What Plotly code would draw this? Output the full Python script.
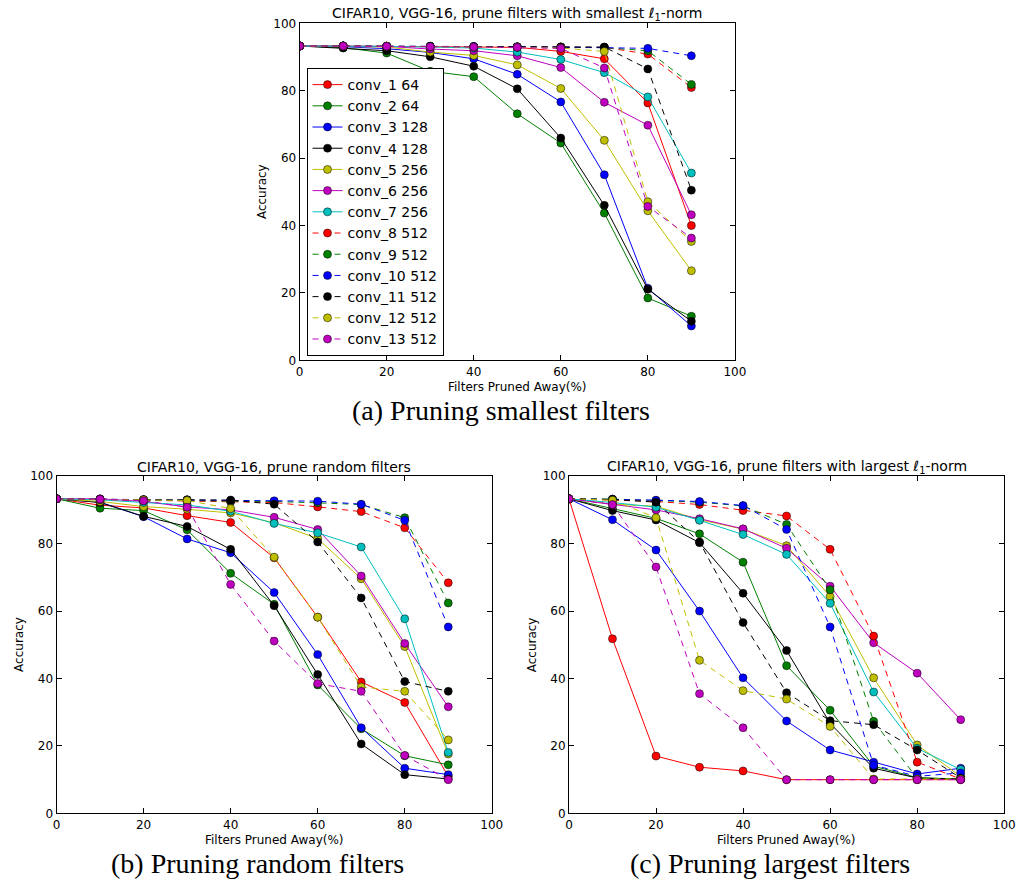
import plotly.graph_objects as go

# Fraction of filters pruned away (%)
pruned = [0, 10, 20, 30, 40, 50, 60, 70, 80, 90]

layer_names = ["conv_1 64", "conv_2 64", "conv_3 128", "conv_4 128", "conv_5 256",
               "conv_6 256", "conv_7 256", "conv_8 512", "conv_9 512", "conv_10 512",
               "conv_11 512", "conv_12 512", "conv_13 512"]

# (a) prune filters with smallest l1-norm
smallest_acc = [
    [93.3, 93.3, 93.2, 93.1, 93.0, 92.9, 91.7, 89.5, 76.4, 40.0],
    [93.3, 92.8, 91.2, 85.8, 84.2, 73.2, 64.5, 43.7, 18.5, 13.1],
    [93.3, 93.1, 92.5, 91.4, 89.5, 84.9, 76.7, 55.1, 21.4, 10.2],
    [93.3, 92.7, 91.9, 90.1, 87.3, 80.6, 66.0, 46.0, 21.1, 11.6],
    [93.3, 93.2, 93.0, 91.5, 90.5, 87.7, 80.7, 65.3, 44.4, 26.6],
    [93.3, 93.3, 93.2, 92.4, 91.9, 90.4, 86.9, 76.6, 69.8, 43.2],
    [93.3, 93.3, 93.2, 93.0, 92.7, 91.5, 89.3, 85.4, 78.2, 55.6],
    [93.3, 93.3, 93.2, 93.2, 93.1, 93.0, 93.0, 92.9, 90.9, 81.0],
    [93.3, 93.3, 93.2, 93.2, 93.1, 93.0, 93.0, 92.8, 91.9, 81.9],
    [93.3, 93.3, 93.3, 93.2, 93.2, 93.1, 93.0, 92.9, 92.6, 90.4],
    [93.3, 93.3, 93.2, 93.2, 93.1, 93.1, 93.0, 93.0, 86.5, 50.5],
    [93.3, 93.3, 93.2, 93.1, 93.0, 92.9, 92.7, 91.7, 47.1, 35.3],
    [93.3, 93.3, 93.2, 93.1, 93.0, 92.9, 92.6, 86.8, 45.7, 36.3],
]

# (b) prune random filters
random_acc = [
    [93.3, 91.4, 90.6, 88.3, 86.3, 75.8, 58.2, 39.0, 32.9, 11.0],
    [93.3, 90.5, 89.8, 84.1, 71.2, 62.0, 38.1, 25.1, 17.1, 14.4],
    [93.3, 92.3, 88.0, 81.4, 77.3, 65.5, 47.1, 25.4, 13.4, 11.5],
    [93.3, 92.2, 88.1, 85.1, 78.3, 61.6, 41.2, 20.6, 11.5, 10.2],
    [93.3, 92.5, 91.0, 90.2, 89.1, 86.2, 81.5, 69.6, 49.5, 17.6],
    [93.3, 93.3, 92.5, 90.9, 90.0, 87.8, 84.2, 70.4, 50.4, 31.6],
    [93.3, 93.0, 92.2, 91.5, 89.6, 86.0, 83.2, 79.0, 57.7, 18.1],
    [93.3, 93.1, 92.8, 92.6, 92.4, 92.2, 90.9, 89.5, 84.7, 68.4],
    [93.3, 93.2, 93.0, 92.8, 92.6, 92.5, 92.1, 91.6, 87.7, 62.4],
    [93.3, 93.2, 93.1, 93.0, 92.9, 92.7, 92.6, 91.7, 86.9, 55.3],
    [93.3, 93.1, 93.0, 93.0, 92.9, 91.7, 80.5, 63.9, 39.1, 36.2],
    [93.3, 93.1, 93.0, 92.8, 90.4, 76.0, 58.2, 37.5, 36.2, 21.8],
    [93.3, 93.2, 92.7, 90.8, 67.9, 51.1, 38.5, 36.2, 17.2, 10.0],
]

# (c) prune filters with largest l1-norm
largest_acc = [
    [93.3, 51.8, 17.0, 13.7, 12.6, 10.0, 10.0, 10.0, 10.0, 10.0],
    [93.3, 90.4, 87.5, 82.9, 74.5, 43.8, 30.6, 14.0, 10.6, 10.2],
    [93.3, 87.1, 78.1, 60.0, 40.2, 27.4, 18.8, 15.2, 11.7, 13.4],
    [93.3, 89.8, 87.0, 80.3, 65.3, 48.3, 26.7, 13.4, 10.5, 10.2],
    [93.3, 91.7, 91.1, 87.1, 84.3, 79.4, 64.3, 40.2, 20.3, 11.0],
    [93.3, 91.6, 90.0, 87.4, 84.4, 78.6, 67.4, 50.6, 41.6, 27.8],
    [93.3, 92.2, 90.8, 86.9, 82.7, 76.8, 62.3, 36.0, 19.3, 13.0],
    [93.3, 93.0, 92.5, 91.6, 89.8, 88.2, 78.3, 52.6, 15.2, 10.2],
    [93.3, 93.2, 92.8, 92.3, 91.2, 85.7, 66.3, 27.3, 10.4, 10.2],
    [93.3, 93.2, 92.9, 92.5, 91.3, 84.2, 55.3, 14.3, 11.0, 12.0],
    [93.3, 93.1, 92.3, 80.5, 56.6, 35.8, 27.5, 26.3, 18.8, 10.5],
    [93.3, 92.9, 87.7, 45.4, 36.4, 33.9, 25.8, 10.2, 10.2, 10.2],
    [93.3, 91.6, 73.1, 35.5, 25.4, 10.0, 10.0, 10.0, 10.0, 10.0],
]

colors = ["#ff0000", "#008000", "#0000ff", "#000000", "#bfbf00", "#bf00bf", "#00bfbf",
          "#ff0000", "#008000", "#0000ff", "#000000", "#bfbf00", "#bf00bf"]
n_solid = 7

W, H = 1030, 890
FONT = "DejaVu Sans"

# panel boxes in pixels: (left, right, top, bottom)
panels = {
    "a": (300, 741.7, 16.7, 359.0),
    "b": (53.3, 495.0, 476.7, 819.3),
    "c": (573.3, 1015.0, 476.7, 819.3),
}


def dom_x(l, r):
    return [l / W, r / W]


def dom_y(t, b):
    return [1 - b / H, 1 - t / H]


fig = go.Figure()

datasets = [("a", smallest_acc, "x", "y"), ("b", random_acc, "x2", "y2"), ("c", largest_acc, "x3", "y3")]
for key, acc, xa, ya in datasets:
    for i, name in enumerate(layer_names):
        fig.add_trace(go.Scatter(
            x=pruned, y=acc[i], name=name, xaxis=xa, yaxis=ya,
            mode="lines+markers",
            line=dict(color=colors[i], width=1,
                      dash="solid" if i < n_solid else "6px,5px"),
            marker=dict(symbol="circle", size=8, color=colors[i],
                        line=dict(color="#000000", width=0.5)),
            showlegend=(key == "a"),
        ))

axis_common = dict(
    range=[0, 100], tickvals=[0, 20, 40, 60, 80, 100],
    ticks="inside", ticklen=5, tickwidth=1, tickcolor="black",
    showline=True, linecolor="black", linewidth=1, mirror="ticks",
    showgrid=False, zeroline=False,
    tickfont=dict(family=FONT, size=12, color="black"),
)

layout_axes = {}
for idx, key in enumerate(["a", "b", "c"]):
    l, r, t, b = panels[key]
    sfx = "" if idx == 0 else str(idx + 1)
    layout_axes["xaxis" + sfx] = dict(axis_common, domain=dom_x(l, r),
                                      anchor="y" + sfx)
    layout_axes["yaxis" + sfx] = dict(axis_common, domain=dom_y(t, b),
                                      anchor="x" + sfx)

annotations = []
titles = {
    "a": "CIFAR10, VGG-16, prune filters with smallest <i>ℓ</i><sub>1</sub>-norm",
    "b": "CIFAR10, VGG-16, prune random filters",
    "c": "CIFAR10, VGG-16, prune filters with largest <i>ℓ</i><sub>1</sub>-norm",
}
captions = {
    "a": "(a) Pruning smallest filters",
    "b": "(b) Pruning random filters",
    "c": "(c) Pruning largest filters",
}
for key in ["a", "b", "c"]:
    l, r, t, b = panels[key]
    cx = (l + r) / 2
    annotations.append(dict(text=titles[key], x=cx / W, y=1 - (t - 9.5) / H,
                            xref="paper", yref="paper", showarrow=False,
                            xanchor="center", yanchor="middle",
                            font=dict(family=FONT, size=14, color="black")))
    annotations.append(dict(text="Filters Pruned Away(%)", x=cx / W, y=1 - (b + 27) / H,
                            xref="paper", yref="paper", showarrow=False,
                            xanchor="center", yanchor="middle",
                            font=dict(family=FONT, size=12, color="black")))
    annotations.append(dict(text="Accuracy", x=(l - 38) / W, y=1 - ((t + b) / 2) / H,
                            xref="paper", yref="paper", showarrow=False, textangle=-90,
                            xanchor="center", yanchor="middle",
                            font=dict(family=FONT, size=12, color="black")))
    annotations.append(dict(text=captions[key], x=(cx - 17) / W, y=1 - (b + 51) / H,
                            xref="paper", yref="paper", showarrow=False,
                            xanchor="center", yanchor="middle",
                            font=dict(family="Liberation Serif", size=28, color="black")))

fig.update_layout(
    width=W, height=H,
    margin=dict(l=0, r=0, t=0, b=0),
    paper_bgcolor="white", plot_bgcolor="white",
    showlegend=True,
    legend=dict(x=307 / W, y=1 - 62 / H, xanchor="left", yanchor="top",
                bordercolor="black", borderwidth=1, bgcolor="white",
                font=dict(family=FONT, size=14, color="black"),
                itemwidth=30, tracegroupgap=0),
    annotations=annotations,
    **layout_axes,
)

fig.write_html("out.html")
